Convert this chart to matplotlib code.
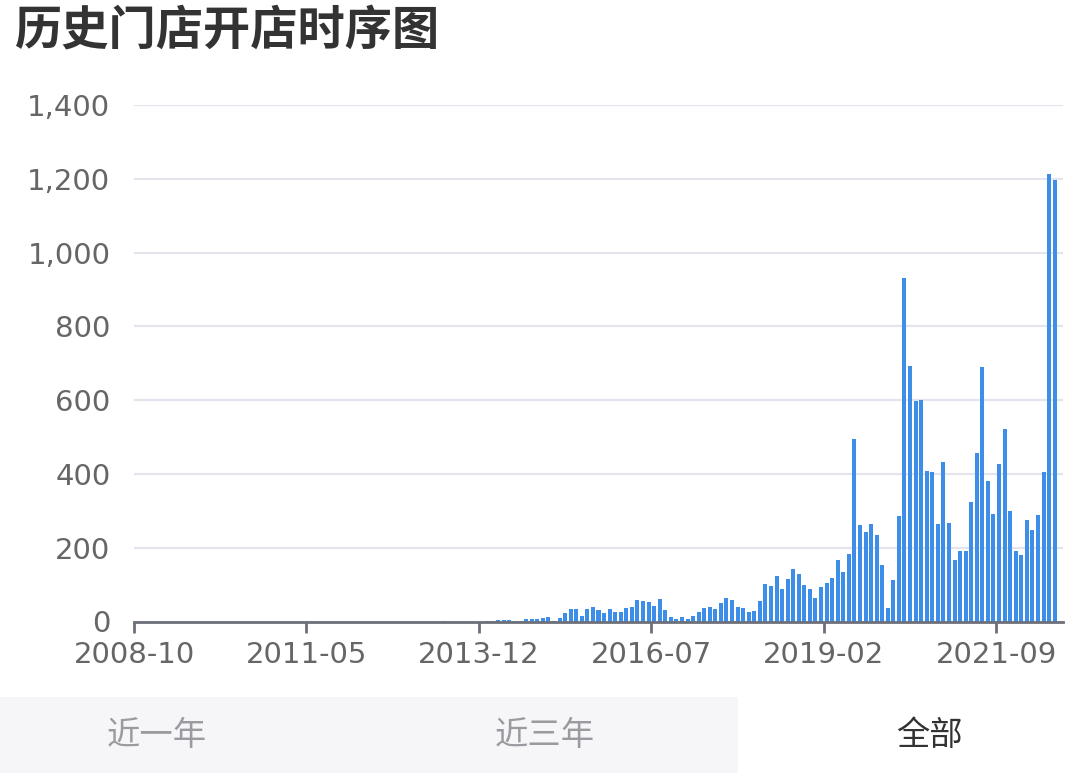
import matplotlib
matplotlib.use("Agg")
import matplotlib.pyplot as plt
from matplotlib.patches import Rectangle
from matplotlib.ticker import FuncFormatter
import pandas as pd

# monthly store openings, 2008-10 .. 2022-08
opened = [
    0, 0, 0, 0, 0, 0, 0, 0, 0, 0, 0, 0, 0, 0, 0, 0, 0, 0, 0, 0,
    0, 0, 0, 0, 0, 0, 0, 0, 0, 0, 0, 0, 0, 0, 0, 0, 0, 0, 0, 0,
    0, 0, 0, 0, 0, 0, 0, 0, 0, 0, 0, 0, 0, 0, 0, 1, 0, 0, 0, 0,
    0, 0, 0, 2, 2, 3, 4, 3, 2, 2, 8, 6, 6, 9, 12, 2, 9, 22, 35, 34,
    15, 35, 38, 32, 22, 34, 25, 27, 36, 40, 57, 56, 53, 41, 60, 31, 13, 8, 13, 6,
    14, 26, 36, 40, 34, 49, 65, 57, 40, 37, 25, 29, 56, 103, 97, 124, 87, 116, 142, 128,
    98, 88, 65, 94, 105, 117, 168, 133, 184, 496, 261, 243, 265, 235, 153, 37, 112, 286, 930, 692,
    599, 600, 409, 404, 263, 431, 266, 166, 192, 192, 325, 458, 690, 380, 291, 427, 523, 300, 190, 180,
    275, 248, 289, 405, 1213, 1196, 0,
]
months = pd.period_range("2008-10", periods=len(opened), freq="M").strftime("%Y-%m").tolist()
label_every = 31
y_ticks = [0, 200, 400, 600, 800, 1000, 1200, 1400]
title = "历史门店开店时序图"
tabs = ["近一年", "近三年", "全部"]

W, H = 1080, 773
fig = plt.figure(figsize=(W / 100, H / 100), dpi=100)
fig.patch.set_facecolor("white")

ax = fig.add_axes([134 / W, 1 - 621.5 / H, 929 / W, (621.5 - 105) / H])
x = list(range(len(opened)))
ax.bar(x, opened, width=0.72, color="#3d8ee9", zorder=3)

ax.set_xlim(-0.5, len(opened) - 0.5)
ax.set_ylim(0, 1400)
ax.set_yticks(y_ticks)
ax.yaxis.set_major_formatter(FuncFormatter(lambda v, p: f"{int(v):,}"))
ax.grid(axis="y", color="#e4e4ee", linewidth=1.6, zorder=0)
ax.tick_params(axis="y", length=0, pad=17, labelsize=21, labelcolor="#666666")

tick_pos = [i - 0.5 for i in range(0, len(opened), label_every)]
ax.set_xticks(tick_pos)
ax.set_xticklabels([months[i] for i in range(0, len(opened), label_every)])
ax.tick_params(axis="x", length=8, width=2, color="#6e7079", pad=6,
               labelsize=21, labelcolor="#666666")

for s in ["top", "right", "left"]:
    ax.spines[s].set_visible(False)
ax.spines["bottom"].set_color("#6e7079")
ax.spines["bottom"].set_linewidth(2)
ax.spines["bottom"].set_zorder(4)

for lab in ax.get_xticklabels() + ax.get_yticklabels():
    lab.set_family(["DejaVu Sans"])

fig.text(14 / W, 1 - 31 / H, title, ha="left", va="center", fontsize=34,
         fontweight="bold", color="#333333", family=["Noto Sans CJK SC", "DejaVu Sans"])

fig.patches.append(Rectangle((0, 0), 738 / W, (H - 697) / H, transform=fig.transFigure,
                             facecolor="#f6f6f8", edgecolor="none", zorder=0))
tab_x = [157, 545, 930]
tab_colors = ["#9a9aa0", "#9a9aa0", "#333333"]
for t, tx, c in zip(tabs, tab_x, tab_colors):
    fig.text(tx / W, 1 - 735 / H, t, ha="center", va="center", fontsize=24,
             color=c, family=["Noto Sans CJK SC", "DejaVu Sans"])

fig.savefig("out.png", dpi=100)
